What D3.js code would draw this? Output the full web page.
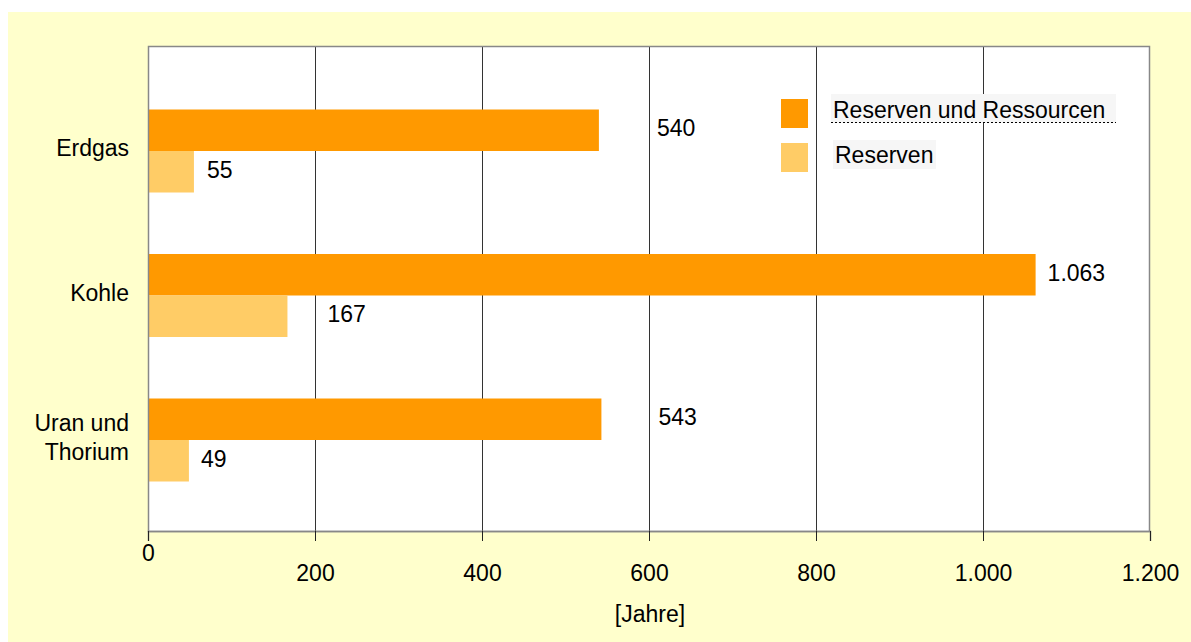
<!DOCTYPE html>
<html>
<head>
<meta charset="utf-8">
<script src="https://cdn.jsdelivr.net/npm/d3@7"></script>
<style>
  html, body { margin: 0; padding: 0; background: #ffffff; }
  svg { display: block; }
  text { font-family: "Liberation Sans", Arial, Helvetica, sans-serif; fill: #000; }
</style>
</head>
<body>
<svg id="chart" width="1191" height="642"></svg>
<script>
// ---- data ----
const categories = ["Erdgas", "Kohle", "Uran und Thorium"];
const categoryLines = [["Erdgas"], ["Kohle"], ["Uran und", "Thorium"]];
const seriesNames = ["Reserven und Ressourcen", "Reserven"];
const reservenUndRessourcen = [540, 1063, 543];
const reserven = [55, 167, 49];
const xTicks = [0, 200, 400, 600, 800, 1000, 1200];
const xTickLabels = ["0", "200", "400", "600", "800", "1.000", "1.200"];
const valueLabels = [["540", "1.063", "543"], ["55", "167", "49"]];
const axisTitle = "[Jahre]";

// ---- layout / style ----
const colors = ["#ff9900", "#ffcc66"];
const labelDx = [[58, 12, 57], [13, 40, 12]];
const fontSize = 23;
const plot = { left: 148, top: 46, right: 1150, bottom: 531 };

const svg = d3.select("#chart");
svg.append("rect").attr("x", 8).attr("y", 12).attr("width", 1183).attr("height", 630).attr("fill", "#ffffcc");
svg.append("rect").attr("x", plot.left).attr("y", plot.top)
  .attr("width", plot.right - plot.left).attr("height", plot.bottom - plot.top)
  .attr("fill", "#ffffff");

const x = d3.scaleLinear().domain([0, 1200]).range([plot.left, plot.right]);
const y = d3.scaleBand().domain(categories).range([78.75, 512.25]).padding(0);
const groupH = 83;
const ySub = d3.scaleBand().domain(seriesNames).range([0, groupH]).padding(0);

// gridlines
svg.append("g").selectAll("line").data(xTicks.slice(1, -1)).join("line")
  .attr("x1", d => Math.round(x(d)) + 0.5).attr("x2", d => Math.round(x(d)) + 0.5)
  .attr("y1", plot.top).attr("y2", plot.bottom)
  .attr("stroke", "#333").attr("stroke-width", 1);

// bars
const series = [reservenUndRessourcen, reserven];
series.forEach((vals, si) => {
  const g = svg.append("g");
  g.selectAll("rect").data(vals).join("rect")
    .attr("x", x(0))
    .attr("y", (d, i) => y(categories[i]) + y.bandwidth() / 2 - groupH / 2 + ySub(seriesNames[si]))
    .attr("width", d => x(d) - x(0))
    .attr("height", ySub.bandwidth())
    .attr("fill", colors[si]);
  g.selectAll("text").data(vals).join("text")
    .attr("x", (d, i) => x(d) + labelDx[si][i])
    .attr("y", (d, i) => y(categories[i]) + y.bandwidth() / 2 - groupH / 2 + ySub(seriesNames[si]) + ySub.bandwidth() / 2 + 6)
    .attr("font-size", fontSize)
    .text((d, i) => valueLabels[si][i]);
});

// plot border
svg.append("rect").attr("x", plot.left + 0.5).attr("y", plot.top + 0.5)
  .attr("width", plot.right - plot.left - 1).attr("height", plot.bottom - plot.top)
  .attr("fill", "none").attr("stroke", "#888").attr("stroke-width", 1.5);

// x axis
const xAxis = d3.axisBottom(x).tickValues(xTicks).tickSize(10).tickFormat((d, i) => xTickLabels[i]);
const ax = svg.append("g").attr("transform", `translate(0,${plot.bottom})`).call(xAxis);
ax.select(".domain").attr("stroke", "#888").attr("stroke-width", 1.5);
ax.selectAll(".tick line").attr("stroke", "#222");
ax.selectAll(".tick text")
  .attr("font-size", fontSize).attr("font-family", '"Liberation Sans", Arial, sans-serif').attr("fill", "#000")
  .attr("dy", null)
  .attr("y", (d, i) => i === 0 ? 30 : 50);

// axis title
svg.append("text").attr("x", 650).attr("y", 622).attr("text-anchor", "middle")
  .attr("font-size", fontSize).text(axisTitle);

// category labels
const cat = svg.append("g");
categories.forEach((c, i) => {
  const cy = y(c) + y.bandwidth() / 2;
  const lines = categoryLines[i];
  const t = cat.append("text").attr("text-anchor", "end").attr("font-size", fontSize);
  lines.forEach((ln, li) => {
    const off = lines.length === 1 ? 5 : (li === 0 ? -9 : 20);
    t.append("tspan").attr("x", 129).attr("y", cy + off).text(ln);
  });
});

// legend
const leg = svg.append("g");
const legItems = [
  { sx: 781, sy: 99, bx: 831, by: 94, bw: 285, bh: 29, tx: 833, ty: 118, dotted: true },
  { sx: 781, sy: 143, bx: 833, by: 140, bw: 103, bh: 29, tx: 835, ty: 163, dotted: false }
];
seriesNames.forEach((name, i) => {
  const it = legItems[i];
  leg.append("rect").attr("x", it.sx).attr("y", it.sy).attr("width", 27).attr("height", 29).attr("fill", colors[i]);
  leg.append("rect").attr("x", it.bx).attr("y", it.by).attr("width", it.bw).attr("height", it.bh).attr("fill", "#f6f6f6");
  leg.append("text").attr("x", it.tx).attr("y", it.ty).attr("font-size", fontSize).text(name);
  if (it.dotted) {
    leg.append("line").attr("x1", it.bx).attr("x2", it.bx + it.bw)
      .attr("y1", it.by + it.bh - 0.5).attr("y2", it.by + it.bh - 0.5)
      .attr("stroke", "#000").attr("stroke-width", 1).attr("stroke-dasharray", "2,2");
  }
});
</script>
</body>
</html>
